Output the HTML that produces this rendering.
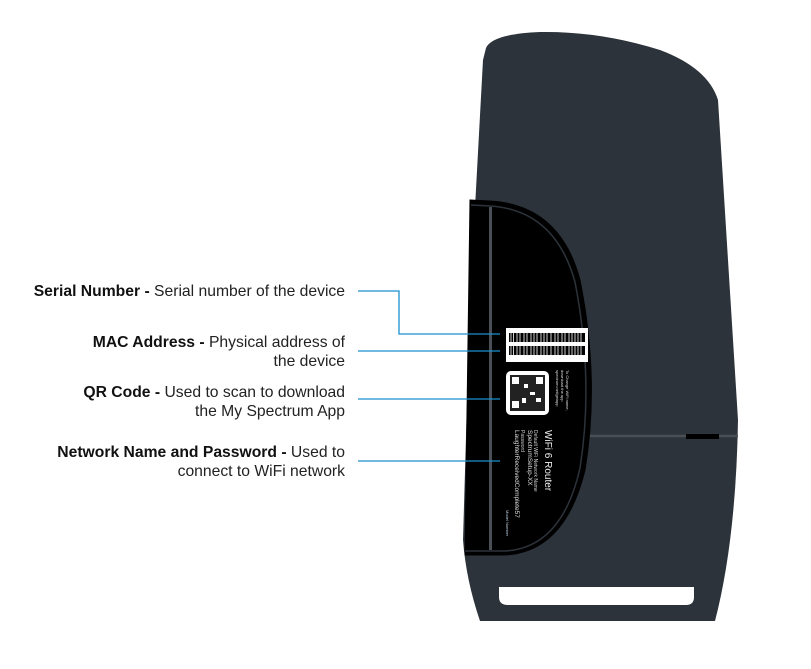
<!DOCTYPE html>
<html><head><style>
body{margin:0;width:811px;height:669px;background:#fff;position:relative;overflow:hidden;font-family:"Liberation Sans",sans-serif}
.t{position:absolute;right:466px;text-align:right;font-size:15.7px;line-height:19px;color:#222;white-space:nowrap}
.t b{font-weight:bold;color:#111}
</style></head><body>
<svg width="811" height="669" style="position:absolute;left:0;top:0">
<path d="M486,48 Q492,34 540,32 Q600,31 660,50 Q708,68 718,100 L738,420 Q736,540 715,621 L480,621 Q466,580 463,540 L470,300 L483,60 Z" fill="#2d333b"/>
<path d="M470,200 L490,201 Q560,205 580,280 Q600,380 585,470 Q565,552 505,555 L465,555 Z" fill="#000" stroke="#000" stroke-width="1"/>
<path d="M471,205 L490,206 Q555,210 575,282 Q594,380 580,468 Q562,548 505,551 L465,551" fill="none" stroke="#2d333b" stroke-width="1.5"/>
<rect x="489" y="207" width="3" height="343" fill="#4a4f56"/>
<rect x="506" y="328" width="82" height="34" fill="#fff"/>
<g fill="#000">
<rect x="509" y="333" width="76" height="9"/><rect x="509" y="346" width="76" height="9"/>
</g>
<g stroke="#fff" stroke-width="0.8">
<line x1="511" y1="333" x2="511" y2="355"/><line x1="513.5" y1="333" x2="513.5" y2="355"/><line x1="517" y1="333" x2="517" y2="355"/><line x1="520" y1="333" x2="520" y2="355"/><line x1="524" y1="333" x2="524" y2="355"/><line x1="527" y1="333" x2="527" y2="355"/><line x1="531" y1="333" x2="531" y2="355"/><line x1="534" y1="333" x2="534" y2="355"/><line x1="537" y1="333" x2="537" y2="355"/><line x1="541" y1="333" x2="541" y2="355"/><line x1="544" y1="333" x2="544" y2="355"/><line x1="547" y1="333" x2="547" y2="355"/><line x1="551" y1="333" x2="551" y2="355"/><line x1="555" y1="333" x2="555" y2="355"/><line x1="558" y1="333" x2="558" y2="355"/><line x1="562" y1="333" x2="562" y2="355"/><line x1="565" y1="333" x2="565" y2="355"/><line x1="569" y1="333" x2="569" y2="355"/><line x1="572" y1="333" x2="572" y2="355"/><line x1="575" y1="333" x2="575" y2="355"/><line x1="578" y1="333" x2="578" y2="355"/><line x1="581" y1="333" x2="581" y2="355"/>
</g>
<rect x="506" y="371" width="43" height="44" rx="5" fill="#fff"/>
<rect x="510" y="375" width="35" height="36" fill="#222"/>
<g fill="#fff"><rect x="512" y="377" width="7" height="7"/><rect x="536" y="377" width="7" height="7"/><rect x="512" y="401" width="7" height="7"/><rect x="524" y="384" width="4" height="4"/><rect x="530" y="392" width="5" height="3"/><rect x="522" y="398" width="4" height="5"/><rect x="536" y="398" width="5" height="4"/></g>
<g fill="#ddd" font-size="4">
<text transform="translate(566,370) rotate(90)">To Change WiFi name,</text>
<text transform="translate(561,370) rotate(90)">download the app</text>
<text transform="translate(556,370) rotate(90)">spectrum.net/getapp</text>
</g>
<text transform="translate(545,430) rotate(90)" fill="#eee" font-size="10">WiFi 6 Router</text>
<g fill="#ccc" font-size="5"><text transform="translate(534,430) rotate(90)">Default WiFi Network Name</text><text transform="translate(521,430) rotate(90)">Password</text></g>
<g fill="#ddd" font-size="6.5"><text transform="translate(528,430) rotate(90)">SpectrumSetup-XX</text><text transform="translate(515,430) rotate(90)">LaughterReceivedComplete57</text></g>
<text transform="translate(506,510) rotate(90)" fill="#bcd" font-size="4">Model Number</text>
<line x1="590" y1="436" x2="738" y2="436" stroke="#4a4f56" stroke-width="2.5"/>
<rect x="686" y="434" width="33" height="5" fill="#000"/>
<path d="M499,587 L694,587 L694,597 Q694,605 686,605 L508,605 Q499,605 499,597 Z" fill="#fff"/>
<g stroke="#1a90d0" stroke-width="1.3" fill="none">
<polyline points="358,291 399,291 399,334 500,334"/>
<line x1="358" y1="351" x2="500" y2="351"/>
<line x1="358" y1="399" x2="500" y2="399"/>
<line x1="358" y1="461" x2="500" y2="461"/>
</g>
</svg>
<div class="t" style="top:282px"><b>Serial Number -</b> Serial number of the device</div>
<div class="t" style="top:333px"><b>MAC Address -</b> Physical address of<br>the device</div>
<div class="t" style="top:383px"><b>QR Code -</b> Used to scan to download<br>the My Spectrum App</div>
<div class="t" style="top:443px"><b>Network Name and Password -</b> Used to<br>connect to WiFi network</div>
</body></html>
